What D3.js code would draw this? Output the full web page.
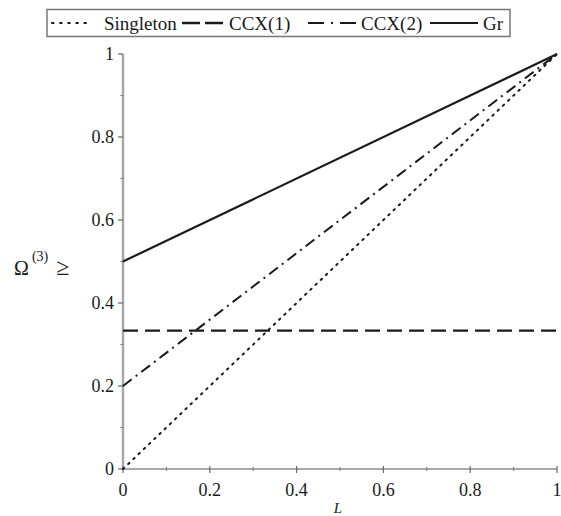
<!DOCTYPE html>
<html>
<head>
<meta charset="utf-8">
<script src="https://cdn.jsdelivr.net/npm/d3@7"></script>
<style>
  body { margin: 0; background: #fff; }
  svg { display: block; font-family: "Liberation Serif", "Times New Roman", serif; }
</style>
</head>
<body>
<div id="chart"></div>
<script>
// ---- data ----
var lValues   = [0, 1];
var singleton = [0, 1];
var ccx1      = [1 / 3, 1 / 3];
var ccx2      = [0.2, 1];
var gr        = [0.5, 1];

var seriesNames = ["Singleton", "CCX(1)", "CCX(2)", "Gr"];
var xTicks = [0, 0.2, 0.4, 0.6, 0.8, 1];
var yTicks = [0, 0.2, 0.4, 0.6, 0.8, 1];
var minorTicks = [0.1, 0.3, 0.5, 0.7, 0.9];

function init() {
    var w = 561, h = 516;

    var svg = d3.select("#chart").append("svg")
        .attr("width", w)
        .attr("height", h);

    var x = d3.scaleLinear().domain([0, 1]).range([123, 557]);
    var y = d3.scaleLinear().domain([0, 1]).range([469, 54]);

    var ink = "#1a1a1a";
    var axisGrey = "#a8a8a8";

    // line styles per series
    var styles = [
        { dash: "1.6,5.6", width: 2, cap: "round" },     // dotted
        { dash: "15,7", width: 2.4, cap: "butt" },       // dashed
        { dash: "11,5,2,5", width: 2, cap: "butt" },     // dash-dot
        { dash: null, width: 2.2, cap: "butt" }          // solid
    ];
    var series = [singleton, ccx1, ccx2, gr];

    // ---- axes ----
    svg.append("line")
        .attr("x1", x(0)).attr("x2", x(0))
        .attr("y1", y(0)).attr("y2", y(1))
        .attr("stroke", axisGrey).attr("stroke-width", 2.5);
    svg.append("line")
        .attr("x1", x(0)).attr("x2", x(1))
        .attr("y1", y(0)).attr("y2", y(0))
        .attr("stroke", axisGrey).attr("stroke-width", 2);

    // y ticks
    svg.selectAll(".ytick").data(yTicks).enter().append("line")
        .attr("x1", x(0) - 5).attr("x2", x(0))
        .attr("y1", function(d) { return y(d); })
        .attr("y2", function(d) { return y(d); })
        .attr("stroke", "#666").attr("stroke-width", 1.2);
    svg.selectAll(".yminor").data(minorTicks).enter().append("line")
        .attr("x1", x(0) - 2.5).attr("x2", x(0))
        .attr("y1", function(d) { return y(d); })
        .attr("y2", function(d) { return y(d); })
        .attr("stroke", "#777").attr("stroke-width", 1);

    // x ticks (crossing the axis)
    svg.selectAll(".xtick").data(xTicks).enter().append("line")
        .attr("x1", function(d) { return x(d); })
        .attr("x2", function(d) { return x(d); })
        .attr("y1", y(0) - 3).attr("y2", y(0) + 4)
        .attr("stroke", "#666").attr("stroke-width", 1.2);
    svg.selectAll(".xminor").data(minorTicks).enter().append("line")
        .attr("x1", function(d) { return x(d); })
        .attr("x2", function(d) { return x(d); })
        .attr("y1", y(0) - 2).attr("y2", y(0) + 2)
        .attr("stroke", "#777").attr("stroke-width", 1);

    var fmt = function(d) { return d === 0 || d === 1 ? String(d) : d3.format(".1f")(d); };

    svg.selectAll(".ylab").data(yTicks).enter().append("text")
        .attr("x", x(0) - 9)
        .attr("y", function(d) { return y(d) + 6; })
        .attr("text-anchor", "end")
        .attr("font-size", 18)
        .attr("fill", ink)
        .text(fmt);

    svg.selectAll(".xlab").data(xTicks).enter().append("text")
        .attr("x", function(d) { return x(d); })
        .attr("y", 496)
        .attr("text-anchor", "middle")
        .attr("font-size", 18)
        .attr("fill", ink)
        .text(fmt);

    // axis titles
    svg.append("text")
        .attr("x", x(0.5) - 2).attr("y", 513)
        .attr("text-anchor", "middle")
        .attr("font-size", 15)
        .attr("font-style", "italic")
        .attr("fill", ink)
        .text("L");

    var yTitle = svg.append("text")
        .attr("x", 14).attr("y", 275)
        .attr("font-size", 20)
        .attr("fill", ink);
    yTitle.append("tspan").text("\u03A9");
    yTitle.append("tspan").attr("dy", -14).attr("dx", 3).attr("font-size", 14).text("(3)");
    yTitle.append("tspan").attr("dy", 14).attr("dx", 8)
        .attr("font-size", 24).text("\u2265");

    // ---- series lines ----
    var line = d3.line()
        .x(function(d, i) { return x(lValues[i]); })
        .y(function(d) { return y(d); });

    series.forEach(function(s, i) {
        svg.append("path")
            .attr("d", line(s))
            .attr("fill", "none")
            .attr("stroke", ink)
            .attr("stroke-width", styles[i].width)
            .attr("stroke-linecap", styles[i].cap)
            .attr("stroke-dasharray", styles[i].dash);
    });

    // ---- legend ----
    var lg = svg.append("g");
    lg.append("rect")
        .attr("x", 47).attr("y", 9.5)
        .attr("width", 463).attr("height", 27)
        .attr("fill", "none")
        .attr("stroke", "#777").attr("stroke-width", 1.5);

    // sample start, sample end, text start
    var slots = [[52, 92, 104], [182, 225, 229], [308, 357, 361], [430, 478, 483]];
    var legendDash = ["1.6,6.5", "18,5", "16,7,2,7", null];
    seriesNames.forEach(function(name, i) {
        lg.append("line")
            .attr("x1", slots[i][0]).attr("x2", slots[i][1])
            .attr("y1", 23).attr("y2", 23)
            .attr("stroke", ink)
            .attr("stroke-width", styles[i].width)
            .attr("stroke-linecap", styles[i].cap)
            .attr("stroke-dasharray", legendDash[i]);
        lg.append("text")
            .attr("x", slots[i][2]).attr("y", 29.5)
            .attr("font-size", 19)
            .attr("fill", ink)
            .text(name);
    });
}

window.onload = init;
</script>
</body>
</html>
